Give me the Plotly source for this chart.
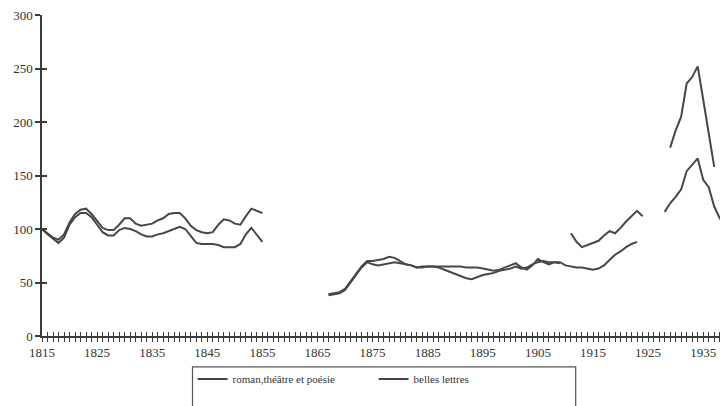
import plotly.graph_objects as go

# ---- data ----
years_1 = list(range(1815, 1856))
belles_1 = [100, 96, 92, 90, 95, 106, 114, 118, 119, 114,
            107, 101, 99, 99, 104, 110, 110, 105, 103, 104,
            105, 108, 110, 114, 115, 115, 110, 103, 99, 97,
            96, 97, 104, 109, 108, 105, 104, 112, 119, 117, 115]
roman_1 = [100, 95, 91, 87, 92, 104, 111, 115, 115, 111,
           104, 97, 94, 94, 99, 101, 100, 98, 95, 93,
           93, 95, 96, 98, 100, 102, 100, 93, 87, 86,
           86, 86, 85, 83, 83, 83, 86, 95, 101, 95, 88]

years_belles_2 = list(range(1867, 1910))
belles_2 = [39, 40, 41, 44, 51, 58, 65, 70, 70, 71,
            72, 74, 73, 70, 67, 66, 64, 65, 65, 65,
            65, 65, 65, 65, 65, 64, 64, 64, 63, 62,
            61, 62, 64, 66, 68, 64, 62, 66, 72, 69,
            67, 69, 68]

years_belles_3 = list(range(1911, 1925))
belles_3 = [96, 88, 83, 85, 87, 89, 94, 98, 96, 101, 107, 112, 117, 112]

years_belles_4 = list(range(1929, 1938))
belles_4 = [176, 192, 205, 236, 242, 252, 221, 190, 158]

years_roman_2 = list(range(1867, 1924))
roman_2 = [38, 39, 40, 43, 50, 57, 64, 69, 67, 66,
           67, 68, 69, 68, 67, 66, 64, 64, 65, 65,
           64, 62, 60, 58, 56, 54, 53, 55, 57, 58,
           59, 61, 62, 63, 65, 63, 64, 67, 69, 70,
           69, 69, 69, 66, 65, 64, 64, 63, 62, 63,
           66, 71, 76, 79, 83, 86, 88]

years_roman_3 = list(range(1928, 1941))
roman_3 = [116, 124, 130, 137, 154, 160, 166, 146, 139, 121, 110, 104, 97]

series_names = ["roman,théâtre et poésie", "belles lettres"]
y_ticks = [0, 50, 100, 150, 200, 250, 300]


def join(segments):
    xs, ys = [], []
    for i, (sx, sy) in enumerate(segments):
        if i:
            xs.append(None)
            ys.append(None)
        xs += sx
        ys += sy
    return xs, ys


rx, ry = join([(years_1, roman_1), (years_roman_2, roman_2), (years_roman_3, roman_3)])
bx, by = join([(years_1, belles_1), (years_belles_2, belles_2),
               (years_belles_3, belles_3), (years_belles_4, belles_4)])

LINE = "#474747"
AX = "#3c3c3c"
FONT = "Liberation Serif"
TXT = "#333333"

fig = go.Figure()
fig.add_trace(go.Scatter(x=rx, y=ry, mode="lines", name=series_names[0],
                         line=dict(color=LINE, width=2), connectgaps=False))
fig.add_trace(go.Scatter(x=bx, y=by, mode="lines", name=series_names[1],
                         line=dict(color=LINE, width=2), connectgaps=False))
# empty helper trace so the second (tick-only) axes are drawn
fig.add_trace(go.Scatter(x=[None], y=[None], xaxis="x2", yaxis="y2",
                         mode="lines", showlegend=False, hoverinfo="skip"))

XR = [1815, 1939.5]
YR = [0, 300]

# page body has an 8px margin: the figure is made 8px smaller each way
fig.update_layout(
    width=720, height=398,
    margin=dict(l=34, r=0, t=7, b=70, autoexpand=False),
    paper_bgcolor="white", plot_bgcolor="white",
    font=dict(family=FONT, size=13, color=TXT),
    xaxis=dict(range=XR, tick0=1815, dtick=10, showgrid=False, zeroline=False,
               automargin=False, ticklabeloverflow="allow",
               showline=True, linecolor=AX, linewidth=1.5,
               ticks="outside", ticklen=4, tickcolor=AX, tickwidth=1.2,
               minor=dict(dtick=1, tick0=1815, ticks="outside", ticklen=4,
                          tickcolor=AX, tickwidth=1.2, showgrid=False),
               tickfont=dict(family=FONT, size=13, color=TXT)),
    xaxis2=dict(range=XR, overlaying="x", anchor="y2", side="bottom",
                automargin=False,
                tick0=1815, dtick=1, showgrid=False, zeroline=False,
                showline=False, ticks="inside", ticklen=4, tickcolor=AX,
                tickwidth=1.2, showticklabels=False),
    yaxis=dict(range=YR, tickvals=y_ticks, showgrid=False, zeroline=False,
               automargin=False, ticklabeloverflow="allow",
               showline=True, linecolor=AX, linewidth=1.5,
               ticks="outside", ticklen=5, tickcolor=AX, tickwidth=1.5,
               tickfont=dict(family=FONT, size=13, color=TXT)),
    yaxis2=dict(range=YR, overlaying="y", anchor="x2", side="left",
                automargin=False,
                tickvals=y_ticks, showgrid=False, zeroline=False, showline=False,
                ticks="inside", ticklen=5, tickcolor=AX, tickwidth=1.5,
                showticklabels=False),
    showlegend=True,
    legend=dict(orientation="h", x=0.2195, y=-0.089, xanchor="left", yanchor="top",
                bgcolor="rgba(0,0,0,0)", borderwidth=0, entrywidth=136,
                font=dict(family=FONT, size=11, color=TXT)),
    shapes=[dict(type="rect", xref="paper", yref="paper",
                 x0=0.2194, x1=0.778, y0=-0.25, y1=-0.096,
                 line=dict(color="#555555", width=1.2))],
)

fig.write_html("out.html")
